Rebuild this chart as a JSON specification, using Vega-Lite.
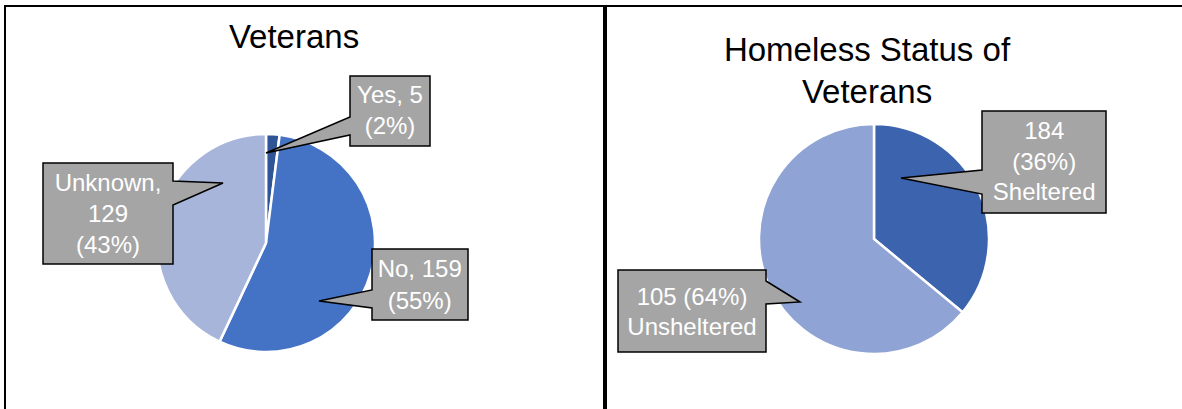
{
  "$schema": "https://vega.github.io/schema/vega-lite/v6.json",
  "background": "white",
  "padding": {"left": 4, "top": 5, "right": 0, "bottom": 0},
  "spacing": 0,
  "config": {"view": {"stroke": "black", "strokeWidth": 2}},
  "resolve": {"scale": {"color": "independent", "theta": "independent"}},
  "hconcat": [
    {
      "width": 599,
      "height": 420,
      "view": {"stroke": "black", "strokeWidth": 2},
      "data": {"values": [
        {"cat": "Yes", "n": 5, "pct": 2, "idx": 1, "label": "Yes, 5\n(2%)"},
        {"cat": "No", "n": 159, "pct": 55, "idx": 2, "label": "No, 159\n(55%)"},
        {"cat": "Unknown", "n": 129, "pct": 43, "idx": 3, "label": "Unknown,\n129\n(43%)"}
      ]},
      "layer": [
        {
          "data": {"values": [{"t": "Veterans"}]},
          "mark": {"type": "text", "x": 289, "y": 41.7, "align": "center", "baseline": "alphabetic", "fontSize": 33, "font": "Liberation Sans", "color": "black"},
          "encoding": {"text": {"field": "t"}}
        },
        {
          "mark": {"type": "arc", "x": 261, "y": 237, "outerRadius": 109, "stroke": "white", "strokeWidth": 2.5},
          "encoding": {
            "theta": {"field": "pct", "type": "quantitative", "stack": true},
            "color": {"field": "cat", "type": "nominal", "scale": {"domain": ["Yes", "No", "Unknown"], "range": ["#2F5597", "#4472C4", "#A7B5DB"]}, "legend": null},
            "order": {"field": "idx", "type": "quantitative"}
          }
        },
        {
          "transform": [{"filter": "datum.cat === 'Yes'"}],
          "mark": {"type": "point", "x": 261, "y": 237, "shape": "M84,-167L164,-167L164,-97L84,-97L84,-108L0,-90L84,-126Z", "size": 4, "filled": true, "fill": "#A5A5A5", "stroke": "black", "strokeWidth": 1.5, "opacity": 1},
          "encoding": {}
        },
        {
          "transform": [{"filter": "datum.cat === 'No'"}],
          "mark": {"type": "point", "x": 261, "y": 237, "shape": "M106,6L202,6L202,77L106,77L106,65L53,58L106,47Z", "size": 4, "filled": true, "fill": "#A5A5A5", "stroke": "black", "strokeWidth": 1.5, "opacity": 1},
          "encoding": {}
        },
        {
          "transform": [{"filter": "datum.cat === 'Unknown'"}],
          "mark": {"type": "point", "x": 261, "y": 237, "shape": "M-223,-80L-93,-80L-93,-62L-43,-60L-93,-38L-93,21L-223,21Z", "size": 4, "filled": true, "fill": "#A5A5A5", "stroke": "black", "strokeWidth": 1.5, "opacity": 1},
          "encoding": {}
        },
        {
          "transform": [{"filter": "datum.cat === 'Yes'"}],
          "mark": {"type": "text", "x": 385, "y": 90, "align": "center", "baseline": "middle", "lineBreak": "\n", "lineHeight": 31, "fontSize": 24, "font": "Liberation Sans", "color": "white"},
          "encoding": {"text": {"field": "label"}}
        },
        {
          "transform": [{"filter": "datum.cat === 'No'"}],
          "mark": {"type": "text", "x": 414.7, "y": 264.3, "align": "center", "baseline": "middle", "lineBreak": "\n", "lineHeight": 32, "fontSize": 24, "font": "Liberation Sans", "color": "white"},
          "encoding": {"text": {"field": "label"}}
        },
        {
          "transform": [{"filter": "datum.cat === 'Unknown'"}],
          "mark": {"type": "text", "x": 103, "y": 178, "align": "center", "baseline": "middle", "lineBreak": "\n", "lineHeight": 31, "fontSize": 24, "font": "Liberation Sans", "color": "white"},
          "encoding": {"text": {"field": "label"}}
        }
      ]
    },
    {
      "width": 600,
      "height": 420,
      "view": {"stroke": "black", "strokeWidth": 2},
      "data": {"values": [
        {"cat": "Sheltered", "n": 184, "pct": 36, "idx": 1, "label": "184\n(36%)\nSheltered"},
        {"cat": "Unsheltered", "n": 105, "pct": 64, "idx": 2, "label": "105 (64%)\nUnsheltered"}
      ]},
      "layer": [
        {
          "data": {"values": [{"t": "Homeless Status of\nVeterans"}]},
          "mark": {"type": "text", "x": 261, "y": 55, "align": "center", "baseline": "alphabetic", "lineBreak": "\n", "lineHeight": 41.7, "fontSize": 33, "font": "Liberation Sans", "color": "black"},
          "encoding": {"text": {"field": "t"}}
        },
        {
          "mark": {"type": "arc", "x": 268, "y": 233, "outerRadius": 115, "stroke": "white", "strokeWidth": 2.5},
          "encoding": {
            "theta": {"field": "pct", "type": "quantitative", "stack": true},
            "color": {"field": "cat", "type": "nominal", "scale": {"domain": ["Sheltered", "Unsheltered"], "range": ["#3C64AE", "#8FA3D4"]}, "legend": null},
            "order": {"field": "idx", "type": "quantitative"}
          }
        },
        {
          "transform": [{"filter": "datum.cat === 'Sheltered'"}],
          "mark": {"type": "point", "x": 268, "y": 233, "shape": "M108,-128L232,-128L232,-26L108,-26L108,-45L27,-61L108,-69Z", "size": 4, "filled": true, "fill": "#A5A5A5", "stroke": "black", "strokeWidth": 1.5, "opacity": 1},
          "encoding": {}
        },
        {
          "transform": [{"filter": "datum.cat === 'Unsheltered'"}],
          "mark": {"type": "point", "x": 268, "y": 233, "shape": "M-256,31L-108,31L-108,42L-74,63L-108,65L-108,113L-256,113Z", "size": 4, "filled": true, "fill": "#A5A5A5", "stroke": "black", "strokeWidth": 1.5, "opacity": 1},
          "encoding": {}
        },
        {
          "transform": [{"filter": "datum.cat === 'Sheltered'"}],
          "mark": {"type": "text", "x": 438.2, "y": 126, "align": "center", "baseline": "middle", "lineBreak": "\n", "lineHeight": 30.5, "fontSize": 24, "font": "Liberation Sans", "color": "white"},
          "encoding": {"text": {"field": "label"}}
        },
        {
          "transform": [{"filter": "datum.cat === 'Unsheltered'"}],
          "mark": {"type": "text", "x": 86, "y": 291.7, "align": "center", "baseline": "middle", "lineBreak": "\n", "lineHeight": 30, "fontSize": 24, "font": "Liberation Sans", "color": "white"},
          "encoding": {"text": {"field": "label"}}
        }
      ]
    }
  ]
}
